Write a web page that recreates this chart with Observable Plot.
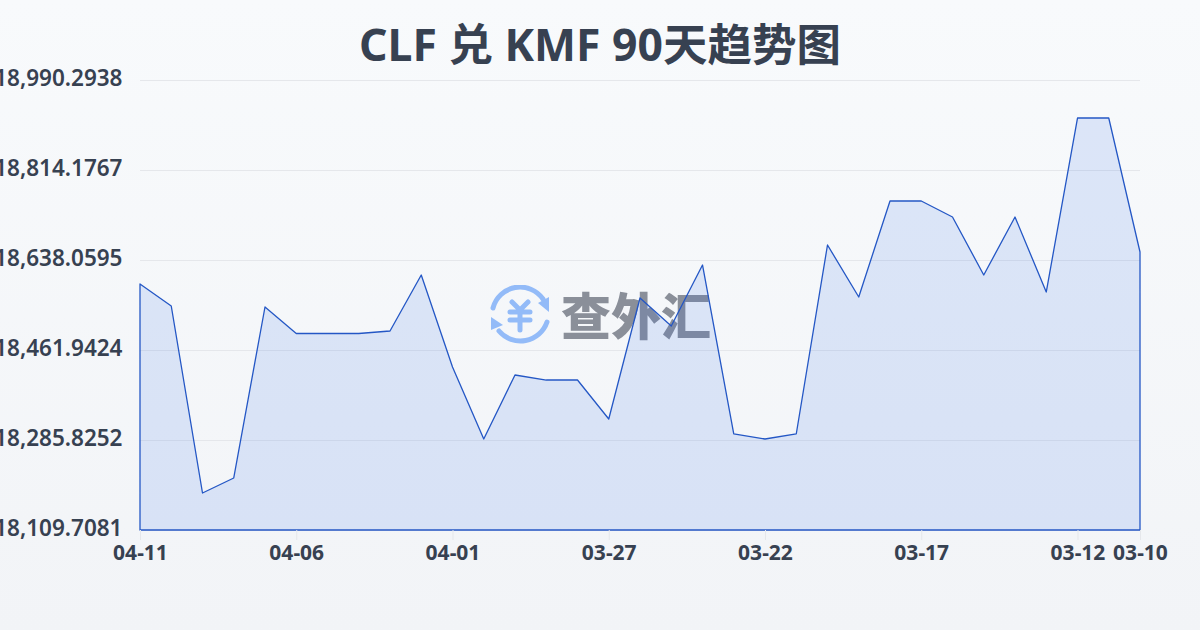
<!DOCTYPE html>
<html lang="zh">
<head>
<meta charset="utf-8">
<script src="https://cdn.jsdelivr.net/npm/d3@7"></script>
<script src="https://cdn.jsdelivr.net/npm/@observablehq/plot@0.6"></script>
<style>
html,body{margin:0;padding:0;width:1200px;height:630px;overflow:hidden;}
body{position:relative;background:linear-gradient(180deg,#f8fafc 0%,#f2f4f7 100%);font-family:"Noto Sans","Noto Sans CJK SC",sans-serif;}
h1{margin:0;height:79px;box-sizing:border-box;padding-top:14px;text-align:center;font:700 44.5px/60px "Noto Sans","Noto Sans CJK SC",sans-serif;color:#374151;}
#wm{position:absolute;left:489px;top:285px;height:60px;display:flex;align-items:center;}
#wm span{font:900 50px/60px "Noto Sans CJK SC",sans-serif;color:#8a8f99;margin-left:10px;position:relative;top:-2px;}
#chart{position:relative;}
</style>
</head>
<body>
<h1>CLF 兑 KMF 90天趋势图</h1>
<div id="wm">
<svg width="62" height="60" viewBox="0 0 62 60" fill="none" stroke="#93bbf8" stroke-width="5" stroke-linecap="round">
<path d="M4 23A28 28 0 0 1 54 14"/><path d="M58 37A28 28 0 0 1 10 46"/>
<path d="M60 12L60 27L49 18Z" fill="#93bbf8" stroke="none"/><path d="M2 32L2 45L14 40Z" fill="#93bbf8" stroke="none"/>
<path d="M23 17L31 25L39 17M21 27H41M21 35H41M31 25V45"/>
</svg>
<span>查外汇</span>
</div>
<div id="chart"></div>
<script>
const dates = ["04-11","04-10","04-09","04-08","04-07","04-06","04-05","04-04","04-03","04-02","04-01","03-31","03-30","03-29","03-28","03-27","03-26","03-25","03-24","03-23","03-22","03-21","03-20","03-19","03-18","03-17","03-16","03-15","03-14","03-13","03-12","03-11","03-10"];
const rates = [18591.1,18548.05,18182.1,18211.5,18546.1,18494.2,18494.2,18494.2,18499.1,18608.7,18428.7,18287.8,18413.0,18403.2,18403.2,18326.9,18563.7,18508.9,18628.3,18297.6,18287.8,18297.6,18667.4,18565.7,18753.5,18753.5,18722.2,18608.7,18722.2,18575.4,18915.9,18915.9,18653.7];
const yTicks = [18109.7081,18285.8252,18461.9424,18638.0595,18814.1767,18990.2938];
const xTicks = ["04-11","04-06","04-01","03-27","03-22","03-17","03-12","03-10"];
const yMin = yTicks[0], yMax = yTicks[yTicks.length-1];
const rows = dates.map((d,i)=>({date:d,rate:rates[i]}));
const ink = "#374151";
const chart = Plot.plot({
  width:1200,height:551,
  marginLeft:140,marginRight:60,marginTop:1,marginBottom:100,
  style:{background:"transparent",overflow:"visible"},
  x:{type:"point",domain:dates,padding:0,round:false},
  y:{domain:[yMin,yMax]},
  marks:[
    Plot.gridY(yTicks,{stroke:"#e5e7eb",strokeOpacity:1,strokeWidth:1}),
    Plot.areaY(rows,{x:"date",y1:()=>yMin,y2:"rate",fill:"#2563eb",fillOpacity:0.13,stroke:"#2457c5",strokeWidth:1.3,curve:"linear"}),
    Plot.axisX({ticks:xTicks,tickSize:10,stroke:"#e5e7eb",tickPadding:5,fontSize:21,fontWeight:700,fontFamily:"'Noto Sans',sans-serif",fill:ink,anchor:"bottom",label:null}),
    Plot.axisY({ticks:yTicks,tickSize:0,tickPadding:18,tickFormat:d3.format(",.4f"),fontSize:22.5,fontWeight:600,fontFamily:"'Noto Sans',sans-serif",fill:ink,anchor:"left",label:null,textOverflow:null,dy:-2})
  ]
});
document.getElementById("chart").append(chart);
</script>
</body>
</html>
